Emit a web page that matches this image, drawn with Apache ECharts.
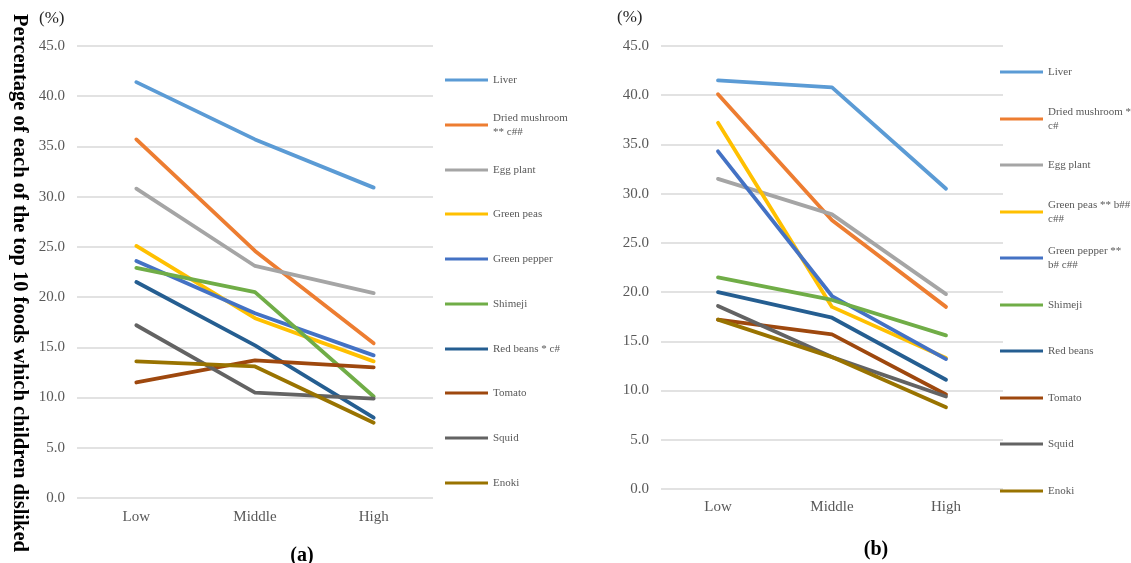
<!DOCTYPE html>
<html>
<head>
<meta charset="utf-8">
<script src="https://cdn.jsdelivr.net/npm/echarts@6/dist/echarts.min.js"></script>
<style>
html,body{margin:0;padding:0;background:#fff;}
#chart{width:1131px;height:563px;}
</style>
</head>
<body>
<div id="chart"></div>
<script>
// ---- data ----
const categories = ['Low', 'Middle', 'High'];
const foods = ['Liver', 'Dried mushroom', 'Egg plant', 'Green peas', 'Green pepper', 'Shimeji', 'Red beans', 'Tomato', 'Squid', 'Enoki'];
const colors = ['#5B9BD5', '#ED7D31', '#A5A5A5', '#FFC000', '#4472C4', '#70AD47', '#255E91', '#9E480E', '#636363', '#997300'];

// panel (a)
const lowA    = [41.4, 35.7, 30.8, 25.1, 23.6, 22.9, 21.5, 11.5, 17.2, 13.6];
const middleA = [35.7, 24.6, 23.1, 17.9, 18.4, 20.5, 15.2, 13.7, 10.5, 13.1];
const highA   = [30.9, 15.4, 20.4, 13.6, 14.2, 10.1,  8.0, 13.0,  9.9,  7.5];
// panel (b)
const lowB    = [41.5, 40.1, 31.5, 37.2, 34.3, 21.5, 20.0, 17.2, 18.6, 17.2];
const middleB = [40.8, 27.3, 27.9, 18.5, 19.6, 19.2, 17.4, 15.7, 13.4, 13.4];
const highB   = [30.5, 18.5, 19.8, 13.3, 13.2, 15.6, 11.1,  9.6,  9.4,  8.3];

const legendA = ['Liver', 'Dried mushroom\n** c##', 'Egg plant', 'Green peas', 'Green pepper', 'Shimeji', 'Red beans * c#', 'Tomato', 'Squid', 'Enoki'];
const legendB = ['Liver', 'Dried mushroom *\nc#', 'Egg plant', 'Green peas ** b##\nc##', 'Green pepper **\nb# c##', 'Shimeji', 'Red beans', 'Tomato', 'Squid', 'Enoki'];
const yTicks = [0, 5, 10, 15, 20, 25, 30, 35, 40, 45];

// ---- layout ----
const FONT = '"Liberation Serif", "Times New Roman", serif';
const legendYA = [79, 124, 169, 213, 258, 303, 348, 392, 437, 482];
const legendYB = [71, 118, 164, 211, 257, 304, 350, 397, 443, 490];

const chart = echarts.init(document.getElementById('chart'), null, {renderer: 'canvas'});

function makeSeries(low, mid, high, axisIdx, suffix) {
  return foods.map((f, i) => ({
    name: f + suffix,
    type: 'line',
    xAxisIndex: axisIdx,
    yAxisIndex: axisIdx,
    data: [low[i], mid[i], high[i]],
    symbol: 'none',
    smooth: false,
    lineStyle: {width: 3.8, color: colors[i], cap: 'round', join: 'round'},
    itemStyle: {color: colors[i]},
    emphasis: {disabled: true},
    animation: false
  }));
}

function makeLegends(labels, ys, left, suffix) {
  return labels.map((lab, i) => {
    const multi = lab.indexOf('\n') >= 0;
    return {
      show: true,
      data: [foods[i] + suffix],
      left: left,
      top: ys[i] - (multi ? 20 : 6),
      padding: 0,
      orient: 'vertical',
      icon: 'rect',
      itemWidth: 43,
      itemHeight: 3.2,
      selectedMode: false,
      formatter: () => lab,
      textStyle: {
        fontFamily: FONT, fontSize: 11, color: '#595959', lineHeight: 14,
        padding: multi ? [14, 0, 0, 0] : 0
      }
    };
  });
}

function yAxisDef(gridIdx) {
  return {
    type: 'value', gridIndex: gridIdx, min: 0, max: 45, interval: 5,
    axisLine: {show: false}, axisTick: {show: false},
    splitLine: {lineStyle: {color: '#d9d9d9', width: 1.5}},
    axisLabel: {fontFamily: FONT, fontSize: 15, color: '#595959', margin: 12,
      formatter: v => yTicks.indexOf(v) >= 0 ? v.toFixed(1) : ''}
  };
}
function xAxisDef(gridIdx, margin) {
  return {
    type: 'category', gridIndex: gridIdx, data: categories, boundaryGap: true,
    axisLine: {show: false}, axisTick: {show: false},
    axisLabel: {fontFamily: FONT, fontSize: 15, color: '#595959', margin: margin}
  };
}

const option = {
  backgroundColor: '#ffffff',
  animation: false,
  grid: [
    {left: 77, top: 46, width: 356, height: 452},
    {left: 661, top: 46, width: 342, height: 443}
  ],
  xAxis: [xAxisDef(0, 12), xAxisDef(1, 11)],
  yAxis: [yAxisDef(0), yAxisDef(1)],
  legend: makeLegends(legendA, legendYA, 445, ' (a)').concat(makeLegends(legendB, legendYB, 1000, ' (b)')),
  series: makeSeries(lowA, middleA, highA, 0, ' (a)').concat(makeSeries(lowB, middleB, highB, 1, ' (b)')),
  graphic: [
    {type: 'text', left: 39, top: 10, style: {text: '(%)', font: '17px ' + FONT, fill: '#262626'}},
    {type: 'text', left: 617, top: 9, style: {text: '(%)', font: '17px ' + FONT, fill: '#262626'}},
    {type: 'text', x: 302, y: 556, style: {text: '(a)', font: 'bold 20px ' + FONT, fill: '#000', align: 'center', verticalAlign: 'middle'}},
    {type: 'text', x: 876, y: 550, style: {text: '(b)', font: 'bold 20px ' + FONT, fill: '#000', align: 'center', verticalAlign: 'middle'}},
    {type: 'text', x: 19, y: 283, rotation: -Math.PI / 2,
      style: {text: 'Percentage of each of the top 10 foods which children disliked', font: 'bold 20.5px ' + FONT, fill: '#000', align: 'center', verticalAlign: 'middle'}}
  ]
};
chart.setOption(option);
</script>
</body>
</html>
